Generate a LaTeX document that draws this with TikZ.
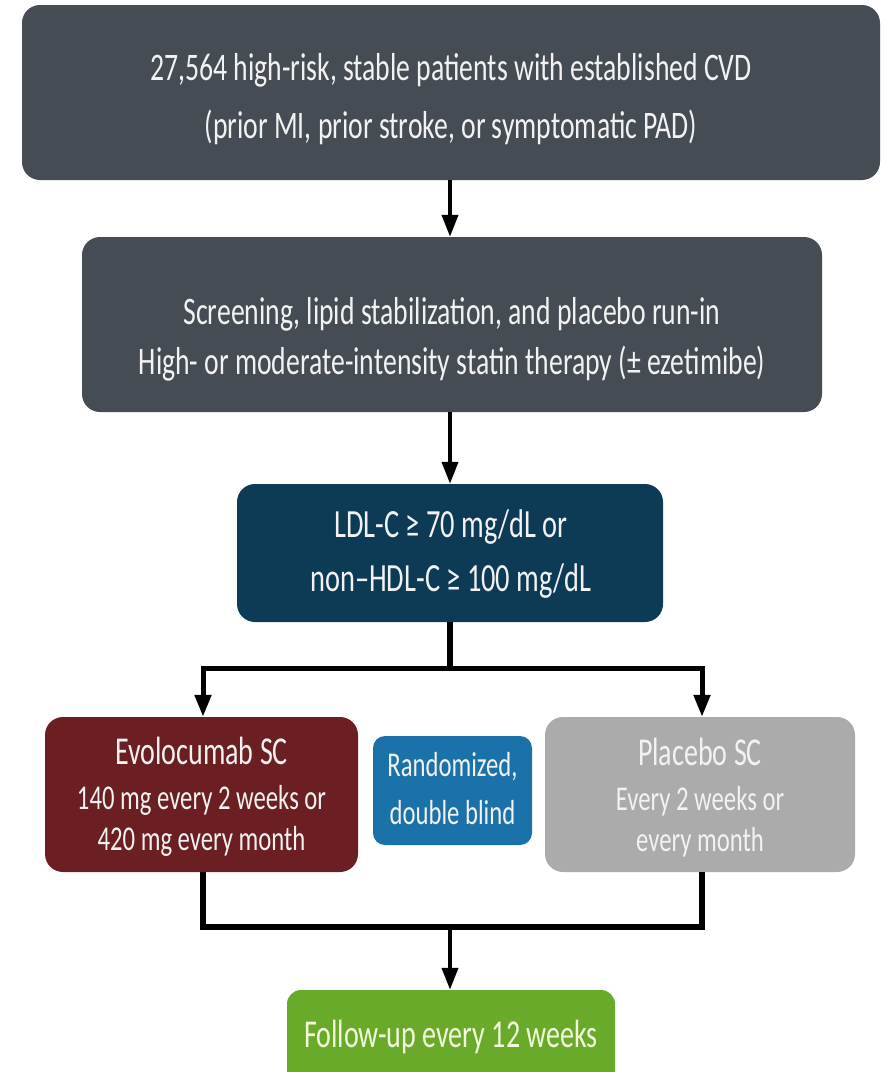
\documentclass[tikz,border=0pt]{standalone}
\usepackage{fontspec}
\setmainfont{Carlito}[FakeStretch=0.71]
\usetikzlibrary{arrows.meta}
\definecolor{slate}{HTML}{464C53}
\definecolor{navy}{HTML}{0D3B55}
\definecolor{wine}{HTML}{6C1F23}
\definecolor{midblue}{HTML}{1B72A8}
\definecolor{lightgray}{HTML}{ABABAB}
\definecolor{leaf}{HTML}{6AAA2A}
\definecolor{paletext}{HTML}{F2F2F2}
\definecolor{greentext}{HTML}{F2F8DC}
\tikzset{
  box/.style={rounded corners=18pt, inner sep=0pt},
  txt/.style={inner sep=0pt, align=center, text=paletext},
  flow/.style={line width=4pt, draw=black},
  arrow/.style={flow, -{Triangle[length=22pt,width=16pt]}},
}
\newcommand{\headsize}{\fontsize{39.5}{41}\selectfont}
\begin{document}
\begin{tikzpicture}[x=1pt,y=-1pt]
  \useasboundingbox (0,0) rectangle (889,1072);
  \fill[white] (0,0) rectangle (889,1072);

  % screening cascade
  \node[box, fill=slate, minimum width=858pt, minimum height=175pt] (pop) at (451,92.5) {};
  \node[txt, font=\fontsize{39}{58}\selectfont] (poptext) at (451,99)
    {27,564 high-risk, stable patients with established CVD\\(prior MI, prior stroke, or symptomatic PAD)};

  \node[box, fill=slate, minimum width=740pt, minimum height=175pt] (runin) at (452,324.5) {};
  \node[txt, font=\fontsize{39}{50}\selectfont] (runintext) at (452,339)
    {Screening, lipid stabilization, and placebo run-in\\High- or moderate-intensity statin therapy (± ezetimibe)};

  \node[box, fill=navy, minimum width=426pt, minimum height=138pt] (lipid) at (450,553) {};
  \node[txt, font=\fontsize{40}{54}\selectfont] (lipidtext) at (451,554)
    {LDL-C ≥ 70 mg/dL or\\non–HDL-C ≥ 100 mg/dL};

  % randomized arms
  \node[box, fill=wine, minimum width=313pt, minimum height=155pt] (evo) at (201.5,794.5) {};
  \node[txt, font=\fontsize{34.8}{41}\selectfont] (evotext) at (201.5,797)
    {{\headsize Evolocumab SC}\\[4pt]140 mg every 2 weeks or\\420 mg every month};

  \node[box, rounded corners=12pt, fill=midblue, minimum width=159pt, minimum height=109pt] (rand) at (452.5,790.5) {};
  \node[txt, font=\fontsize{34.8}{48}\selectfont] (randtext) at (452.5,789)
    {Randomized,\\double blind};

  \node[box, fill=lightgray, minimum width=310pt, minimum height=155pt] (pbo) at (700,794.5) {};
  \node[txt, font=\fontsize{34.8}{41}\selectfont] (pbotext) at (700,798)
    {{\headsize Placebo SC}\\[4pt]Every 2 weeks or\\every month};

  % follow-up, running off the lower edge
  \begin{scope}
    \clip (0,0) rectangle (889,1072);
    \node[box, rounded corners=14pt, fill=leaf, minimum width=328pt, minimum height=100pt] (fu) at (451,1040) {};
  \end{scope}
  \node[txt, text=greentext, font=\headsize] (futext) at (451,1037) {Follow-up every 12 weeks};

  % connectors
  \coordinate (split) at (450,668);
  \coordinate (join) at (450,927);
  \draw[arrow] (pop.south -| 450,0) -- (runin.north -| 450,0);
  \draw[arrow] (runin.south -| 450,0) -- (lipid.north -| 450,0);
  \draw[flow, line width=5.5pt] (lipid.south -| split) -- (split);
  \draw[arrow, line width=5pt] (split) -| ([xshift=1.5pt]evo.north);
  \draw[arrow, line width=5pt] (split) -| ([xshift=2pt]pbo.north);
  \draw[flow, line width=5.5pt] ([xshift=1.5pt]evo.south) |- (join);
  \draw[flow, line width=5.5pt] ([xshift=2pt]pbo.south) |- (join);
  \draw[arrow] (join) -- (fu.north -| join);
\end{tikzpicture}
\end{document}
